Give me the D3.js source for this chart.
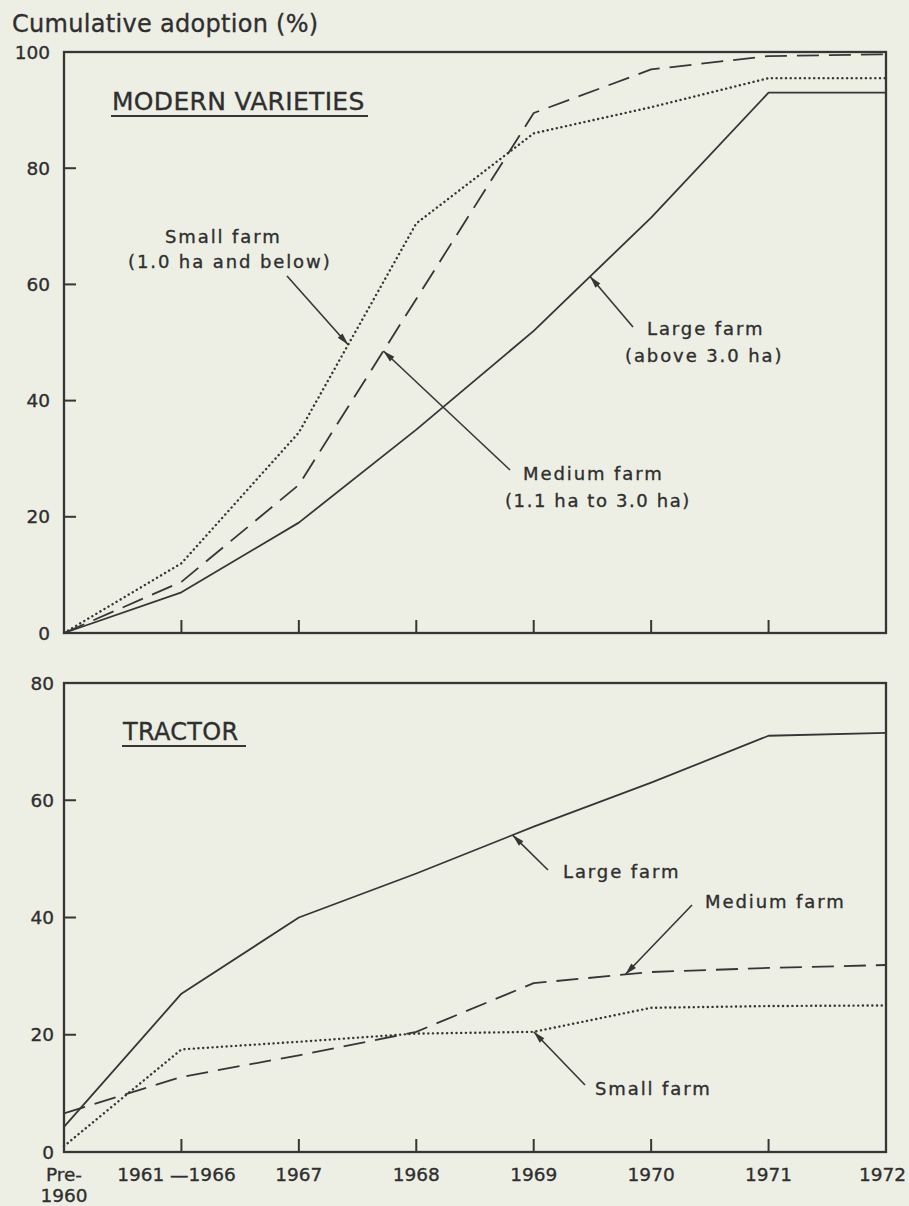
<!DOCTYPE html>
<html>
<head>
<meta charset="utf-8">
<script src="https://cdn.jsdelivr.net/npm/d3@7"></script>
<style>
  html, body { margin: 0; padding: 0; background: #edefe5; }
  svg { display: block; }
  text { font-family: "DejaVu Sans", sans-serif; fill: #2f2f2f; stroke: #2f2f2f; stroke-width: 0.35px; }
</style>
</head>
<body>
<svg id="chart" width="909" height="1206"></svg>
<script>
// ---------- data ----------
const categories = ["Pre-1960", "1961-1966", "1967", "1968", "1969", "1970", "1971", "1972"];
const xTickLabels = [["Pre-", "1960"], ["1961 \u20141966"], ["1967"], ["1968"], ["1969"], ["1970"], ["1971"], ["1972"]];

// Modern varieties, cumulative adoption (%)
const mvSmall  = [0, 12, 34.5, 70.5, 86, 90.5, 95.5, 95.5];
const mvMedium = [0, 8.8, 25.5, 57.5, 89.5, 97, 99.3, 99.6];
const mvLarge  = [0, 7, 19, 35, 52, 71.5, 93, 93];

// Tractor, cumulative adoption (%)
const trSmall  = [1, 17.5, 18.8, 20.2, 20.5, 24.6, 24.9, 25];
const trMedium = [6.6, 12.8, 16.5, 20.5, 28.8, 30.7, 31.4, 31.9];
const trLarge  = [4.3, 27, 40, 47.5, 55.5, 63, 71, 71.5];

const mvTicks = [0, 20, 40, 60, 80, 100];
const trTicks = [0, 20, 40, 60, 80];

// ---------- drawing ----------
const svg = d3.select("#chart");
const ink = "#363636";
const W = +svg.attr("width");

const x = d3.scalePoint().domain(categories).range([64, 886]);
const yMV = d3.scaleLinear().domain([0, 100]).range([633, 52]);
const yTR = d3.scaleLinear().domain([0, 80]).range([1152, 683]);

const styles = {
  small:  { dash: "0.1 4.6", width: 2.4, cap: "round" },
  medium: { dash: "22 10",   width: 1.8, cap: "butt" },
  large:  { dash: null,      width: 1.8, cap: "butt" }
};

function panel(y, ticks, labelRight) {
  const g = svg.append("g");
  const [x0, x1] = x.range();
  const yTop = y.range()[1], yBot = y.range()[0];
  g.append("rect").attr("x", x0).attr("y", yTop).attr("width", x1 - x0).attr("height", yBot - yTop)
    .attr("fill", "none").attr("stroke", ink).attr("stroke-width", 2.3);
  ticks.slice(1, -1).forEach(t => {
    g.append("line").attr("x1", x0).attr("x2", x0 + 12).attr("y1", y(t)).attr("y2", y(t))
      .attr("stroke", ink).attr("stroke-width", 2);
  });
  ticks.forEach(t => {
    g.append("text").attr("x", labelRight).attr("y", y(t)).attr("dy", "0.36em")
      .attr("text-anchor", "end").attr("font-size", 18.5).text(t);
  });
  categories.slice(1, -1).forEach(c => {
    g.append("line").attr("x1", x(c)).attr("x2", x(c)).attr("y1", yBot).attr("y2", yBot - 13)
      .attr("stroke", ink).attr("stroke-width", 2);
  });
  return g;
}

function series(g, y, values, st) {
  const line = d3.line().x((d, i) => x(categories[i])).y(d => y(d));
  g.append("path").datum(values).attr("d", line)
    .attr("fill", "none").attr("stroke", ink).attr("stroke-width", st.width)
    .attr("stroke-linecap", st.cap).attr("stroke-linejoin", "round")
    .attr("stroke-dasharray", st.dash);
}

function pointAt(values, y, t) {
  const i = Math.min(Math.floor(t), values.length - 2), f = t - i;
  const px = x(categories[i]) + f * (x(categories[i + 1]) - x(categories[i]));
  const v = values[i] + f * (values[i + 1] - values[i]);
  return [px, y(v)];
}

function arrow(g, tail, tip) {
  g.append("line").attr("x1", tail[0]).attr("y1", tail[1]).attr("x2", tip[0]).attr("y2", tip[1])
    .attr("stroke", ink).attr("stroke-width", 1.6);
  const ang = Math.atan2(tip[1] - tail[1], tip[0] - tail[0]);
  const L = 12, Wd = 3.2;
  const bx = tip[0] - L * Math.cos(ang), by = tip[1] - L * Math.sin(ang);
  const px = -Math.sin(ang) * Wd, py = Math.cos(ang) * Wd;
  g.append("path").attr("d", `M${tip[0]},${tip[1]}L${bx + px},${by + py}L${bx - px},${by - py}Z`)
    .attr("fill", ink);
}

function label(g, txt, x0, y0, size, ls) {
  return g.append("text").attr("x", x0).attr("y", y0).attr("font-size", size)
    .attr("letter-spacing", ls).text(txt);
}

// ---- Upper panel: modern varieties ----
const gMV = panel(yMV, mvTicks, 50);
label(gMV, "Cumulative adoption (%)", 12, 32, 24, 0.3);
label(gMV, "MODERN VARIETIES", 112, 110, 25, 0.3);
gMV.append("line").attr("x1", 111).attr("x2", 368).attr("y1", 116).attr("y2", 116)
  .attr("stroke", ink).attr("stroke-width", 2);
series(gMV, yMV, mvSmall, styles.small);
series(gMV, yMV, mvMedium, styles.medium);
series(gMV, yMV, mvLarge, styles.large);

label(gMV, "Small farm", 165, 243, 18, 1.9);
label(gMV, "(1.0 ha and below)", 128, 268, 18, 1.9);
arrow(gMV, [287, 276], pointAt(mvSmall, yMV, 2.42));

label(gMV, "Large farm", 647, 335, 18, 1.9);
label(gMV, "(above 3.0 ha)", 625, 362, 18, 1.9);
arrow(gMV, [633, 327], pointAt(mvLarge, yMV, 4.48));

label(gMV, "Medium farm", 523, 480, 18, 1.9);
label(gMV, "(1.1 ha to 3.0 ha)", 505, 507, 18, 1.6);
arrow(gMV, [510, 470], pointAt(mvMedium, yMV, 2.72));

// ---- Lower panel: tractor ----
const gTR = panel(yTR, trTicks, 54);
label(gTR, "TRACTOR", 123, 740, 24, 0.3);
gTR.append("line").attr("x1", 122).attr("x2", 246).attr("y1", 746).attr("y2", 746)
  .attr("stroke", ink).attr("stroke-width", 2);
series(gTR, yTR, trSmall, styles.small);
series(gTR, yTR, trMedium, styles.medium);
series(gTR, yTR, trLarge, styles.large);

label(gTR, "Large farm", 563, 878, 18, 1.9);
arrow(gTR, [548, 870], pointAt(trLarge, yTR, 3.82));
label(gTR, "Medium farm", 705, 908, 18, 1.9);
arrow(gTR, [692, 905], pointAt(trMedium, yTR, 4.78));
label(gTR, "Small farm", 595, 1095, 18, 1.9);
arrow(gTR, [585, 1085], pointAt(trSmall, yTR, 4.0));

categories.forEach((c, i) => {
  const lines = xTickLabels[i];
  lines.forEach((s, k) => {
    const t = gTR.append("text").attr("x", x(c) - (i === 1 ? 5 : 0)).attr("y", 1181 + k * 21)
      .attr("text-anchor", "middle").attr("font-size", 18.5).text(s);
    // keep label inside the page
    const bb = t.node().getBBox();
    if (bb.x + bb.width > W - 3) t.attr("x", +t.attr("x") - (bb.x + bb.width - (W - 3)));
  });
});
</script>
</body>
</html>
